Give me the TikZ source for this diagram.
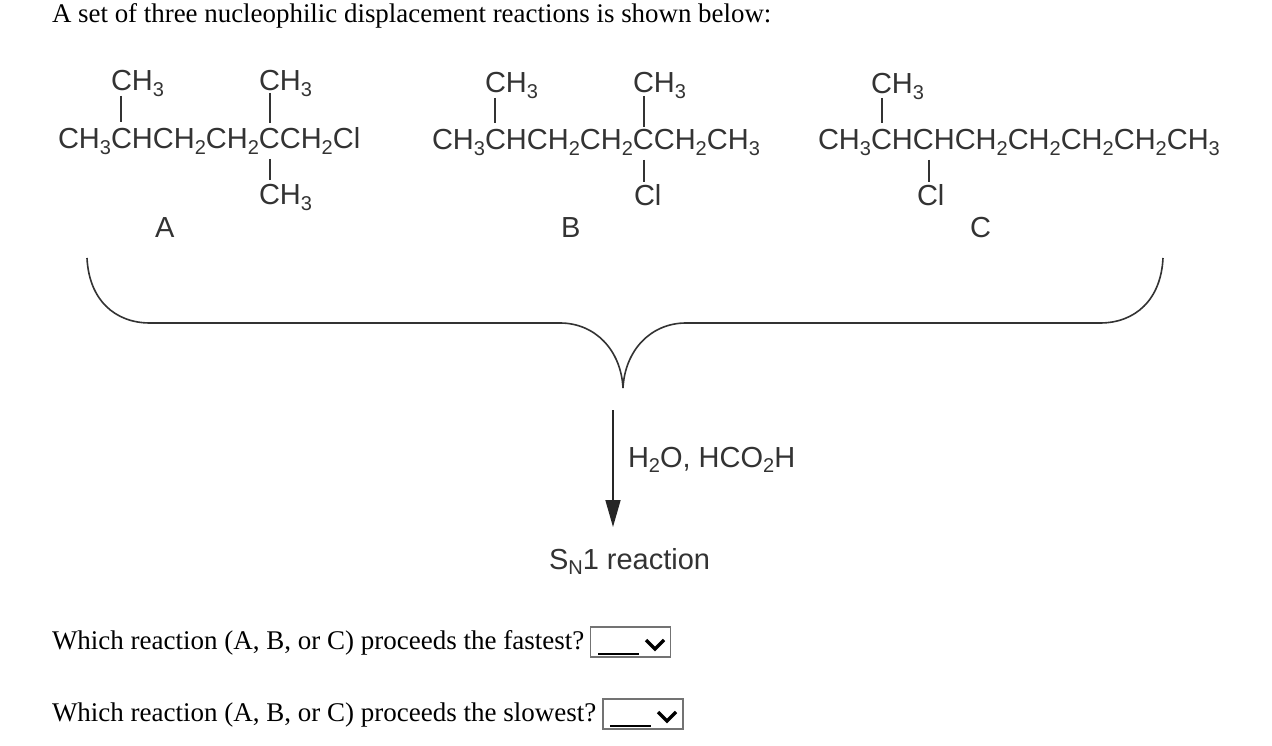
\documentclass[tikz,border=0pt]{standalone}
\usepackage{fontspec}
\setmainfont{Liberation Serif}
\newfontfamily\chemfont{Liberation Sans}
\usetikzlibrary{arrows.meta}
\definecolor{chem}{HTML}{333333}
\newcommand{\sbs}[1]{\raisebox{-0.2em}{\fontsize{20}{20}\selectfont #1}}
\tikzset{
  x=1pt,y=-1pt,
  chem/.style={anchor=base west,inner sep=0pt,outer sep=0pt,text=chem,font=\chemfont\fontsize{29}{29}\selectfont},
  qtext/.style={anchor=base west,inner sep=0pt,outer sep=0pt,text=black,font=\fontsize{26.9}{27}\selectfont},
  qtextb/.style={qtext,font=\fontsize{27}{27}\selectfont},
  bond/.style={draw=chem,line width=1.5pt},
  brace/.style={draw=chem,line width=1.6pt},
  rxn/.style={draw=black!85,line width=1.7pt,-{Triangle[length=27pt,width=15pt]}},
  selectbox/.style={draw=black!55,line width=1.6pt,fill=white,minimum width=80pt,minimum height=30pt,inner sep=0pt},
  blank/.style={draw=black,line width=1.3pt},
  chevron/.style={draw=black,line width=3.4pt}
}
\begin{document}
\begin{tikzpicture}
\useasboundingbox (0,0) rectangle (1272,746);
\fill[white] (0,0) rectangle (1272,746);
\node[qtext] (title) at (52,23) {A set of three nucleophilic displacement reactions is shown below:};
% A
\node[chem] (a1) at (111,91) {CH\sbs{3}};
\node[chem] (a2) at (259,91) {CH\sbs{3}};
\node[chem] (am) at (58,149) {CH\sbs{3}CHCH\sbs{2}CH\sbs{2}CCH\sbs{2}Cl};
\node[chem] (a3) at (259,205) {CH\sbs{3}};
\node[chem] (alab) at (155,238) {A};
\coordinate (a1t) at (121,96); \coordinate (a1b) at (121,122);
\coordinate (a2t) at (270,93); \coordinate (a2b) at (270,123);
\coordinate (a3t) at (270,159); \coordinate (a3b) at (270,180);
\draw[bond] (a1t) -- (a1b); \draw[bond] (a2t) -- (a2b); \draw[bond] (a3t) -- (a3b);
% B
\node[chem] (b1) at (485,93) {CH\sbs{3}};
\node[chem] (b2) at (633,93) {CH\sbs{3}};
\node[chem] (bm) at (432,150) {CH\sbs{3}CHCH\sbs{2}CH\sbs{2}CCH\sbs{2}CH\sbs{3}};
\node[chem] (b3) at (634,206) {Cl};
\node[chem] (blab) at (561,237) {B};
\coordinate (b1t) at (495,98); \coordinate (b1b) at (495,123);
\coordinate (b2t) at (644,96); \coordinate (b2b) at (644,127);
\coordinate (b3t) at (644,160); \coordinate (b3b) at (644,182);
\draw[bond] (b1t) -- (b1b); \draw[bond] (b2t) -- (b2b); \draw[bond] (b3t) -- (b3b);
% C
\node[chem] (c1) at (871,94) {CH\sbs{3}};
\node[chem] (cm) at (818,150) {CH\sbs{3}CHCHCH\sbs{2}CH\sbs{2}CH\sbs{2}CH\sbs{2}CH\sbs{3}};
\node[chem] (c3) at (917,206) {Cl};
\node[chem] (clab) at (970,237) {C};
\coordinate (c1t) at (882,98); \coordinate (c1b) at (882,123);
\coordinate (c3t) at (929,160); \coordinate (c3b) at (929,182);
\draw[bond] (c1t) -- (c1b); \draw[bond] (c3t) -- (c3b);
% brace
\coordinate (bl) at (87,258); \coordinate (bla) at (150,323);
\coordinate (bml) at (560,323); \coordinate (btip) at (623,388);
\coordinate (bmr) at (686,323); \coordinate (bra) at (1100,323);
\coordinate (brr) at (1163,258);
\draw[brace] (bl) .. controls (89,300) and (115,323) .. (bla) -- (bml)
  .. controls (595,323) and (621,350) .. (btip)
  .. controls (625,350) and (651,323) .. (bmr) -- (bra)
  .. controls (1135,323) and (1161,300) .. (brr);
% arrow
\coordinate (arrs) at (613,410); \coordinate (arre) at (613,527);
\draw[rxn] (arrs) -- (arre);
\node[chem] (reag) at (628,467) {H\sbs{2}O, HCO\sbs{2}H};
\node[chem] (sn) at (549,569) {S\sbs{N}1 reaction};
% questions
\node[qtextb] (q1) at (52,649) {Which reaction (A, B, or C) proceeds the fastest?};
\node[qtextb] (q2) at (52,721) {Which reaction (A, B, or C) proceeds the slowest?};
\node[selectbox] (s1) at (630.5,642) {};
\node[selectbox] (s2) at (643,714) {};
\draw[blank] (598,654) -- (639,654);
\draw[blank] (610,726) -- (651,726);
\draw[chevron] (646,640) -- (655,649) -- (664,640);
\draw[chevron] (658,712) -- (667,721) -- (676,712);
\end{tikzpicture}
\end{document}
